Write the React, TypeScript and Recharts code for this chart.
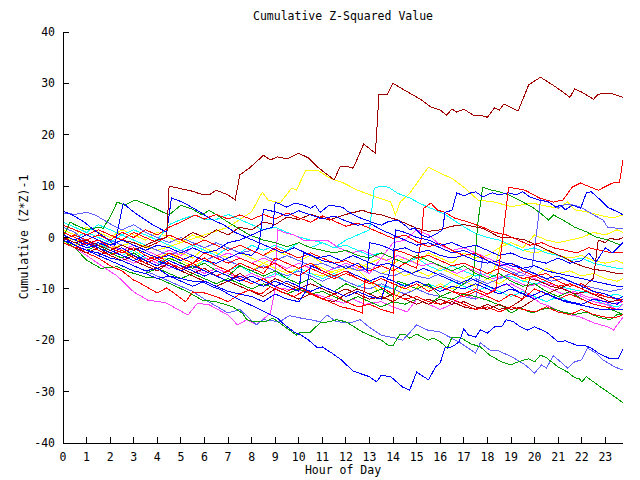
import React from 'react';
import { LineChart, Line, XAxis, YAxis } from 'recharts';

type P = [number, number][];

const HOUR_TICKS = [0, 1, 2, 3, 4, 5, 6, 7, 8, 9, 10, 11, 12, 13, 14, 15, 16, 17, 18, 19, 20, 21, 22, 23];
const VALUE_TICKS = [-40, -30, -20, -10, 0, 10, 20, 30, 40];

const dr1: P = [[0,0],[0.5,-1],[1,-0.5],[1.5,-1.5],[2,-2.5],[2.5,-1.5],[3,-2.5],[3.5,-1.5],[4,-0.5],[4.4,0],[4.5,10],[5,9.5],[5.5,9],[5.8,8.5],[6.2,8.3],[6.5,9.2],[7,8.3],[7.3,7.3],[7.5,12.2],[7.9,13.5],[8.5,16],[8.8,15.1],[9.1,15.7],[9.5,15.3],[10,16.4],[10.4,15.5],[10.8,13.7],[11.5,11.2],[11.76,13.9],[12,13.9],[12.3,13.5],[12.5,15.5],[12.75,18.2],[13.25,16.4],[13.4,27.9],[13.75,27.9],[14,30],[14.7,28.1],[15.2,26.8],[15.6,25.4],[16,24.8],[16.26,23.8],[16.5,25],[16.7,24.4],[17,25],[17.4,23.8],[17.7,23.8],[18,23.4],[18.3,25.2],[18.5,24.8],[18.7,26],[19.3,24.6],[19.75,29.7],[20.25,31.2],[20.9,29.3],[21.5,27.3],[21.7,28.9],[22,28.3],[22.5,26.9],[22.7,27.9],[23.2,28.1],[23.75,27.3]];
const r1: P = [[0,1],[0.5,0],[1,-1.2],[1.5,-0.5],[2,-2],[2.5,-3],[3,-2],[3.5,-3.5],[4,-4.5],[4.5,-3],[5,-4],[5.5,-5],[6,-4],[6.5,-5.5],[7,-6.5],[7.5,-5],[8,-6],[8.5,-7],[9,-4],[9.5,-5],[10,-6],[10.5,-5],[11,-6.5],[11.5,-7.5],[12,-6.5],[12.5,-8],[13,-9],[13.5,-8],[14,-9],[14.5,-10],[15,-9],[15.5,-10.5],[16,-9.5],[16.5,-10.5],[17,-11],[17.5,-10],[18,-11],[18.35,-10.2],[18.6,-2],[18.9,9.8],[19.6,9.2],[20.2,7.7],[20.8,6.9],[21.2,7.3],[21.6,9.8],[21.95,10.6],[22.7,9.2],[23.3,10.6],[23.6,10.8],[23.75,15]];
const b1: P = [[0,0.5],[0.5,-0.5],[1,0.5],[1.5,-0.5],[2,-1.5],[2.5,-0.5],[3,-1.5],[3.5,-2.5],[4,-1.5],[4.5,-2],[5,-3],[5.5,-2],[6,-3],[6.5,-2.5],[7,-1],[7.5,-0.5],[8,0.5],[8.5,1.5],[8.9,2],[9,6.9],[9.5,5.9],[9.85,6.7],[10.2,6.3],[10.5,5.7],[10.7,6.3],[10.9,4.9],[11.3,6.3],[11.85,5.9],[12.1,5],[12.5,4],[13.2,2.8],[13.5,2.4],[13.8,3.1],[14.2,3.4],[14.5,2.4],[14.7,1.5],[14.9,1.9],[15.2,0.5],[15.5,0],[15.8,0.6],[16.1,1.5],[16.2,4.9],[16.5,5.3],[16.7,8.7],[17,8.1],[17.3,8.7],[17.5,8.9],[17.8,7.9],[18.2,8.7],[18.5,8.3],[18.9,8.7],[19.2,8.3],[19.5,8.9],[19.8,7.9],[20.2,7.3],[20.6,6.9],[20.9,5.9],[21.1,6.3],[21.3,5.4],[21.6,6.3],[21.95,5.7],[22.2,8.7],[22.4,8.9],[22.7,7.7],[23.1,5.9],[23.6,4.8],[23.75,4.4]];
const y1: P = [[0,0],[1,-1],[2,-2],[3,-1],[4,-2.5],[5,-1],[6,0.5],[7,2],[7.5,3.5],[8,5],[8.45,8.8],[8.7,7.3],[9.2,6.7],[9.7,9.6],[9.9,9.2],[10.3,13.1],[10.8,13.1],[11.3,11.6],[11.9,10.6],[12.5,9.2],[13.2,8],[13.9,6.9],[14.1,4.4],[14.3,6.9],[14.7,8.6],[15.2,11.8],[15.5,13.7],[16,12.5],[16.5,11.5],[17,9.8],[17.6,7.3],[18.3,6.9],[19,6],[19.9,6.7],[20.4,6.2],[21,5.7],[21.4,6.9],[21.7,5.4],[22.2,5],[22.7,4.4],[23.3,3.8],[23.75,4.4]];
const g1: P = [[0,-0.5],[0.5,-1.5],[1,-2.5],[1.5,-1.5],[2,-3],[2.5,-4],[3,-3],[3.5,-4.5],[4,-5.5],[4.5,-4],[5,-5],[5.5,-6],[6,-5],[6.5,-6.5],[7,-7.5],[7.5,-5.5],[8,-6.5],[8.5,-7.5],[9,-6.5],[9.5,-8],[10,-9],[10.5,-8],[11,-9.5],[11.5,-10.5],[12,-9],[12.5,-10],[13,-11],[13.5,-10],[14,-11.5],[14.2,-8.5],[14.5,-9],[15,-10],[15.5,-9],[16,-11.5],[16.5,-10.5],[17,-9],[17.4,-7.5],[17.6,3],[17.8,9.8],[18.1,9.3],[18.5,8.9],[18.9,8.3],[19.5,6.9],[19.9,5.9],[20.2,4.9],[20.6,3.4],[20.8,4.4],[21.2,3.4],[21.7,2],[22.2,1.1],[22.6,0.1],[23.1,-0.5],[23.5,-1.2],[23.65,-1.5],[23.75,-1]];
const g2: P = [[0,0],[0.3,3],[0.5,2.5],[1,1.5],[1.5,2],[1.7,1.8],[2,4],[2.3,6.9],[2.6,6.3],[3.06,7.3],[3.5,6.5],[3.9,5.7],[4.2,5],[4.5,4.4],[5,6.3],[5.5,5.5],[5.9,4.4],[6.2,5.3],[7,3],[7.9,0.5],[8.5,-0.5],[9,-1],[9.5,-1.8],[10,-1],[10.5,-2],[11,-2.5],[11.5,-3],[12,-2.5],[12.5,-3.5],[13,-4],[13.5,-3],[14,-4],[14.5,-5],[15,-3.5],[15.5,-4.5],[16,-5.5],[16.5,-6.5],[17,-5.5],[17.5,-7],[18,-8],[18.5,-7],[19,-8.5],[19.5,-9.5],[20,-9],[20.5,-10.5],[21,-11.5],[21.5,-10.5],[22,-12],[22.5,-13],[23,-13.5],[23.5,-14.5],[23.75,-15]];
const g3: P = [[0,-0.5],[0.5,-2],[1,-4.4],[1.6,-6],[2.3,-5.7],[2.8,-6.7],[3.5,-7.7],[4,-7.9],[4.5,-8.9],[5.3,-10.6],[5.9,-12.2],[6.5,-12.5],[7.2,-13.5],[7.6,-14.7],[7.8,-16],[8.1,-16.4],[8.6,-16.4],[8.9,-15.7],[9.3,-17],[9.6,-18],[9.9,-19],[10.1,-18.4],[10.5,-18.4],[10.9,-16.6],[11.3,-16.4],[11.6,-16],[12,-16.4],[12.7,-18.4],[13.5,-20],[13.8,-21],[14,-21],[14.3,-18.8],[14.5,-18.8],[14.7,-19.6],[15,-18.8],[15.5,-20],[15.7,-19.6],[16,-20.3],[16.3,-21.5],[16.5,-19.4],[16.9,-19.6],[17.3,-20.7],[17.7,-21.3],[18.1,-22.9],[18.6,-24.2],[19,-24.8],[19.3,-24.2],[19.75,-23.6],[20,-24.2],[20.25,-22.9],[20.5,-23.4],[21,-25.2],[21.4,-26.2],[21.7,-27.3],[21.9,-27.5],[22,-28.1],[22.2,-27.1],[22.8,-29.1],[23.4,-31],[23.75,-32.2]];
const b2: P = [[0,0],[0.5,-1.5],[1,-2.5],[1.5,-3],[2,-4],[2.5,-4.5],[3,-5.5],[3.5,-6.5],[4,-6],[4.5,-7.5],[5,-8],[5.5,-8.5],[5.9,-8.6],[6.3,-9.5],[6.7,-10.2],[7.2,-11.5],[7.8,-12.8],[8.4,-14.1],[9.1,-15.7],[9.4,-17],[9.8,-18.4],[10.1,-19],[10.4,-19.9],[10.8,-21.5],[11,-21.3],[11.4,-22.5],[11.8,-23.8],[12.3,-26],[13,-27.1],[13.3,-28.1],[13.5,-26.8],[13.9,-27.1],[14.4,-29.1],[14.7,-29.7],[15,-26.2],[15.5,-27.7],[15.8,-25.2],[16,-24.4],[16.2,-21.5],[16.5,-21.3],[16.8,-20.3],[17,-17.8],[17.2,-19],[17.5,-19.4],[17.7,-18],[18,-18.6],[18.3,-17.4],[18.6,-17.4],[18.8,-16],[19.1,-16.4],[19.4,-17.4],[19.7,-18],[20,-17.4],[20.5,-18.4],[21,-20.3],[21.3,-20.1],[21.8,-21],[22.1,-21],[22.4,-21.5],[22.7,-22.5],[23.2,-23.6],[23.55,-23.6],[23.75,-21.7]];
const s1: P = [[0,2],[0.5,1],[1,-1],[1.5,-2],[2,-3.5],[2.5,-4.5],[3,-5.5],[3.5,-6.5],[4,-7.5],[4.5,-8.5],[5,-9.5],[5.5,-10.5],[6,-12],[6.4,-13.1],[7,-14.7],[7.5,-14],[8.2,-17],[8.5,-16],[9.2,-16.4],[9.6,-15.2],[10.1,-15.7],[10.5,-16],[10.9,-16.4],[11.2,-15.1],[11.6,-16.4],[12.2,-16.6],[12.6,-16],[13,-17.5],[13.5,-19],[14.1,-19.6],[14.4,-20],[14.65,-18.8],[15,-17],[15.45,-18],[16,-18.4],[16.4,-19.4],[16.85,-20.5],[17.5,-22.5],[17.7,-20.5],[18.1,-21.9],[18.5,-22.1],[19.1,-23.4],[19.6,-24.8],[20,-26.4],[20.3,-24.8],[20.5,-25.4],[20.8,-23],[21.1,-24.2],[21.4,-25.4],[21.7,-24.2],[22,-23.8],[22.25,-21.5],[22.6,-22.5],[22.9,-23.8],[23.4,-25.2],[23.75,-25.8]];
const m1: P = [[0,-0.5],[0.5,-2],[1,-3.5],[1.7,-5.7],[2.3,-7.5],[3,-10.6],[3.6,-12.2],[4.1,-12.5],[4.4,-12.8],[5.3,-15.1],[5.7,-12.8],[6.2,-13.1],[7,-15.1],[7.4,-17],[7.8,-16],[8.2,-17],[8.8,-14.7],[9,-9.8],[9.8,-10.2],[10.4,-10.6],[11,-11.5],[11.9,-12.8],[12.3,-12],[12.8,-13],[13.5,-12.5],[14,-13.5],[14.6,-14.5],[15,-12],[15.5,-13],[16,-14],[16.5,-13],[17,-11],[17.5,-12],[18,-11],[18.5,-9.5],[19,-9],[19.5,-10.2],[20.25,-12.8],[20.7,-13.5],[21.2,-14.7],[21.95,-15.5],[22.5,-16.6],[23.1,-17.4],[23.35,-18],[23.75,-15.5]];
const c1: P = [[0,1],[0.5,0],[1,1],[1.5,0],[2,-1],[2.5,0.5],[3,-0.5],[3.5,-1.5],[4,-0.5],[4.5,-1.5],[5,-2.5],[5.5,-1.5],[6,-2.5],[6.5,-3.5],[7,-2],[7.5,-3],[8,-1.5],[8.5,-2.5],[9,-1.5],[9.5,-2.5],[10,-1],[10.5,-2],[11,-1],[11.5,-2],[12,-0.5],[12.5,0.5],[13,1.5],[13.2,9.6],[13.5,10],[13.8,9.8],[14.2,8.6],[14.7,7.7],[15.2,6.5],[15.7,5.5],[16.2,4.5],[16.7,3],[17.1,1.8],[17.5,0.8],[18,0],[18.5,-0.5],[19,-1.5],[19.5,-2.5],[20,-2],[20.5,-3],[21,-3.5],[21.5,-4.5],[22,-4],[22.5,-5],[23,-5.5],[23.5,-6],[23.75,-6]];
const c2: P = [[0,3],[0.5,2],[1,1],[1.5,2.5],[2,1.5],[2.5,0.5],[3,1.5],[3.5,0.5],[4,-0.5],[4.5,2.5],[5,3.5],[5.6,4.4],[6,3.5],[6.45,3.4],[7,4.5],[7.5,3.5],[8,2.5],[8.5,1.5],[9,2],[9.5,1],[10,0.1],[10.5,-0.5],[11,-1],[11.5,-2],[12,-1.5],[12.5,-2.5],[13,-3.5],[13.5,-3],[14,-4],[14.5,-5],[15,-4],[15.5,-5.5],[16,-6.5],[16.5,-5.5],[17,-6.5],[17.5,-7.5],[18,-7],[18.5,-8],[19,-7.5],[19.5,-8.5],[20,-9],[20.5,-8.5],[21,-9.5],[21.5,-10],[22,-10.5],[22.5,-11],[23,-11.5],[23.5,-11],[23.75,-11.6]];
const c3: P = [[0,0],[0.5,-1],[1,-2],[1.5,-1],[2,-2.5],[2.5,-3.5],[3,-2.5],[3.5,-4],[4,-5],[4.5,-4],[5,-5],[5.5,-6],[6,-4.5],[6.5,-5.5],[7,-6.5],[7.5,-5.5],[8,-7],[8.5,-8],[9,-7],[9.5,-8],[10,-6],[10.5,-7],[11,-8],[11.5,-7],[12,-8.5],[12.5,-9.5],[13,-8.5],[13.5,-9.5],[14,-10],[14.5,-9],[15,-10],[15.5,-9],[16,-10],[16.5,-8.5],[17,-9.5],[17.5,-10.5],[18,-9.5],[18.5,-10.5],[19,-11.5],[19.5,-10.5],[20,-11.5],[20.5,-12.5],[21,-11.5],[21.5,-12.5],[22,-13],[22.5,-12],[23,-13],[23.5,-13.5],[23.75,-13]];
const y2: P = [[0,1.5],[0.5,0.5],[1,2],[1.5,1],[2,0],[2.5,1.5],[3,0.5],[3.5,-0.5],[4,1],[4.5,0],[5,-1],[5.5,0.5],[6,-0.5],[6.5,-1.5],[7,-2.5],[7.5,-1.5],[8,-2.5],[8.5,-3.5],[9,-2.5],[9.5,-3.5],[10,-4.5],[10.5,-3.5],[11,-5],[11.5,-6],[12,-5],[12.5,-6],[13,-5],[13.5,-4],[14,-5],[14.5,-4],[15,-5],[15.5,-3],[16,-4],[16.5,-5],[17,-3],[17.5,-4],[18,-3.5],[18.5,-2],[19,-1],[19.5,-2],[20,0.5],[20.5,-0.5],[21,-1],[21.5,-0.5],[22,0],[22.5,1],[23,0.5],[23.5,1.5],[23.75,1]];
const y3: P = [[0,0.5],[0.5,-0.5],[1,-1.5],[1.5,-1],[2,-2],[2.5,-3],[3,-2],[3.5,-3],[4,-4],[4.5,-3],[5,-4.5],[5.5,-5.5],[6,-4.5],[6.5,-5.5],[7,-6.5],[7.5,-5.5],[8,-6.5],[8.5,-5],[9,-6],[9.5,-7],[10,-6],[10.5,-7],[11,-7.5],[11.5,-6.5],[12,-6],[12.5,-6.3],[13,-8.5],[13.6,-11.6],[14,-12.5],[14.4,-9.6],[14.8,-10.5],[15.2,-9],[15.6,-10],[16,-9],[16.5,-10],[17,-8.5],[17.5,-9.5],[18,-8],[18.5,-9],[19,-7.5],[19.5,-8.5],[20,-7.5],[20.5,-6],[21,-7],[21.5,-6.5],[22,-7.5],[22.5,-7],[23,-8],[23.5,-8.5],[23.75,-8]];
const d2: P = [[0,0.5],[0.5,-0.5],[1,0.5],[1.5,-0.5],[2,-1.5],[2.5,-0.5],[3,-1],[3.5,-2],[4,-1],[4.5,0.5],[5,-0.5],[5.5,1],[6,0],[6.5,1.5],[7,0.5],[7.5,2],[8,1.5],[8.5,3],[9,2.5],[9.5,4],[10,3.5],[10.5,4.5],[11,3.8],[11.3,3.4],[12,4.5],[12.7,5.3],[13,4.8],[13.5,4.4],[14.2,3.4],[15,1.8],[15.5,1.2],[16,1.5],[16.5,2.2],[17,2.5],[17.8,1.8],[18.5,0.1],[19,0],[19.6,-0.5],[20.25,-1.8],[20.8,-3],[21.2,-3.8],[21.7,-5],[22.1,-5.7],[22.5,-6.2],[23,-6.5],[23.5,-7],[23.75,-7]];
const d3: P = [[0,-1],[0.5,-2],[1,-3],[1.5,-2],[2,-3.5],[2.5,-4.5],[3,-3.5],[3.5,-5],[4,-6],[4.5,-5],[5,-6],[5.5,-7],[6,-6],[6.5,-7.5],[7,-8.5],[7.5,-7],[8,-8.5],[8.5,-9.5],[9,-8],[9.5,-9],[10,-10],[10.5,-9],[11,-10],[11.5,-11],[12,-10],[12.5,-11],[13,-12],[13.5,-11.5],[14,-12.5],[14.5,-11],[15,-12],[15.5,-13],[16,-12],[16.5,-13],[17,-12.5],[17.5,-13.5],[18,-14],[18.5,-13],[19,-14],[19.5,-13.5],[20,-12],[20.5,-11],[21,-10],[21.5,-9],[22,-10],[22.5,-7.9],[22.7,-0.5],[23,-1],[23.2,-0.1],[23.5,-0.5],[23.75,0]];
const r3: P = [[0,-0.5],[0.5,-1.5],[1,-3],[1.5,-4],[2,-5.5],[2.5,-6.5],[3,-8.3],[3.2,-8.7],[4,-10.8],[4.4,-9.8],[5.2,-12.5],[5.5,-10.6],[6,-10.8],[6.5,-11.5],[7,-12.5],[7.5,-11],[7.9,-10.2],[8.4,-11],[8.8,-9.6],[9.2,-10.5],[9.8,-11.5],[10.3,-10.2],[10.8,-11.5],[11.3,-12.5],[11.8,-13.5],[12.3,-14],[12.7,-14.7],[12.8,-8.3],[13.2,-9],[13.6,-10],[14,-11],[14.5,-12],[15,-11.5],[15.5,-12.5],[16,-13],[16.5,-12],[17,-13],[17.5,-14],[18,-13.5],[18.5,-14.5],[19,-13.5],[19.5,-14],[20,-14.5],[20.5,-13.5],[21,-14.5],[21.5,-15],[22,-14],[22.5,-15],[23,-15.5],[23.5,-15.5],[23.75,-15]];
const r4: P = [[0,0],[0.5,-1],[1,-0.5],[1.5,-2],[2,-3],[2.5,-2],[3,-3.5],[3.5,-4.5],[4,-3.5],[4.5,-5],[5,-6],[5.5,-5],[6,-6.5],[6.5,-7.5],[7,-6.5],[7.5,-8],[8,-9],[8.5,-8],[9,-9.5],[9.5,-10.5],[10,-9.5],[10.5,-11],[11,-12],[11.5,-11],[12,-12.5],[12.5,-13.5],[13,-13],[13.5,-14],[14,-14.7],[14.05,-2.4],[14.5,-3],[15,-4],[15.5,-3.5],[16,-4.5],[16.5,-5.5],[17,-5],[17.5,-6],[18,-7],[18.5,-6],[19,-7],[19.5,-8],[20,-7.5],[20.5,-8.5],[21,-9.5],[21.5,-9],[22,-10],[22.5,-11],[23,-11.5],[23.5,-12],[23.75,-12]];
const r5: P = [[0,2.4],[0.5,1.5],[1,0.5],[1.5,1.5],[2,0.5],[2.5,-0.5],[3,1],[3.5,0],[4,-1],[4.5,0.5],[5,-0.5],[5.5,-1.5],[6,-0.5],[6.5,-1.5],[7,-2.5],[7.5,-1.5],[8,-2.5],[8.5,-3.5],[9,-2],[9.5,-3],[10,-4],[10.5,-3],[11,-4],[11.5,-5],[12,-4.5],[12.5,-5.5],[13,-6.5],[13.5,-5.5],[14,-6.5],[14.5,-5],[15,-6],[15.2,0],[15.3,5.7],[15.6,6.7],[15.9,5.3],[16.2,4.9],[16.6,3.8],[17.2,3],[17.8,2],[18.3,1],[18.8,0.5],[19.3,-0.5],[19.8,-1.5],[20.3,-1],[20.8,-2],[21.3,-2.5],[21.8,-3],[22.3,-2],[22.8,-2.5],[23.3,-3],[23.75,-3]];
const r6: P = [[0,-1],[0.5,-2],[1,-1],[1.5,-2.5],[2,-3.5],[2.5,-2.5],[3,-4],[3.5,-5],[4,-4],[4.5,-5.5],[5,-6.5],[5.5,-5],[6,-3],[6.5,-4],[7,-5],[7.5,-4],[8,-5],[8.5,-6],[9,-5],[9.5,-6.5],[10,-7.5],[10.5,-6],[11,-7],[11.5,-8],[12,-7],[12.5,-8],[13,-9],[13.5,-8],[14,-9],[14.5,-10],[15,-9],[15.5,-10.5],[16,-9.5],[16.5,-10.5],[17,-11.5],[17.5,-10.5],[18,-11.5],[18.5,-12.5],[19,-11],[19.5,-12],[20,-10],[20.5,-11],[21,-12],[21.5,-11],[22,-12],[22.5,-13],[23,-13.5],[23.5,-14],[23.75,-14]];
const r7: P = [[0,-0.5],[0.5,0.5],[1,-0.5],[1.5,0.5],[2,-0.5],[2.5,1],[3,0],[3.5,1.5],[4,0.5],[4.5,2],[5,3],[5.6,4.4],[6,3.6],[6.5,4.5],[7,3.6],[7.5,4.4],[8,3.5],[8.5,4.5],[9,3.6],[9.5,4.8],[10,3.8],[10.5,3],[11,4.2],[11.5,3.2],[12,2.2],[12.5,2.8],[13,1.8],[13.5,0.8],[14,-0.2],[14.5,0.5],[15,-0.8],[15.5,-1.8],[16,-1.2],[16.5,-2.5],[17,-3.5],[17.5,-3],[18,-4.5],[18.5,-5.5],[19,-5],[19.5,-6.5],[20,-7.5],[20.5,-7],[21,-8.5],[21.5,-9.5],[22,-9],[22.5,-10.5],[23,-11.5],[23.5,-12],[23.75,-12.5]];
const b3: P = [[0,-0.5],[0.5,-1.5],[1,-2.5],[1.5,-3.5],[2,-4.5],[2.5,-5.5],[3,-6.5],[3.5,-7],[4,-8],[4.5,-7.5],[5,-8.5],[5.5,-9.5],[6,-8.5],[6.5,-9.5],[7,-10.5],[7.5,-11],[8,-11.5],[8.5,-12.5],[9,-11],[9.5,-12],[10,-12.5],[10.3,-10.5],[10.5,-5.5],[11,-6.5],[11.5,-7.5],[12,-6.5],[12.5,-7.5],[13,-8.5],[13.5,-7.5],[14,-8.5],[14.5,-9.5],[15,-8.5],[15.5,-9.5],[16,-10.5],[16.5,-9.5],[17,-10],[17.5,-9],[18,-10],[18.5,-11],[19,-10],[19.5,-11],[20,-12],[20.5,-11],[21,-12],[21.5,-12.5],[22,-13],[22.5,-12],[23,-12.5],[23.5,-13],[23.75,-12]];
const b4: P = [[0,1],[0.5,0],[1,-1],[1.5,-2],[2,-3],[2.5,-2],[3,-3.5],[3.5,-4.5],[4,-5.5],[4.5,-4.5],[5,-5.5],[5.5,-6.5],[6,-7.5],[6.5,-6.5],[7,-7.5],[7.5,-8.5],[8,-7.5],[8.5,-8.5],[9,-9.5],[9.5,-8.5],[10,-9.5],[10.5,-10.5],[11,-9.5],[11.5,-10.5],[12,-11.5],[12.5,-10.5],[13,-11.5],[13.5,-12],[14,-4.4],[14.1,1.5],[14.5,1],[15,0],[15.5,-0.5],[16,-1.5],[16.5,-1],[17,-2],[17.5,-1.5],[18,-2.5],[18.5,-3.5],[19,-3],[19.5,-4],[20,-4.5],[20.5,-5],[21,-4],[21.5,-5],[22,-4.5],[22.3,-3],[22.6,-4.8],[23,-2],[23.3,-3],[23.75,-1]];
const b5: P = [[0,5.1],[0.4,4.4],[0.9,3],[1.3,1.5],[1.8,0],[2.2,-1.5],[2.55,6.7],[2.9,5.3],[3.3,4],[3.8,2.5],[4.4,1],[4.6,7.7],[5,7],[5.3,6.3],[5.8,5],[6.3,3.5],[6.8,2.5],[7.3,1],[7.8,0],[8.3,-1],[8.8,-2],[9.3,-3],[9.8,-2],[10.3,-3],[10.8,-4],[11.3,-3.5],[11.8,-4.5],[12.3,-3.5],[12.8,-4.5],[13.3,-5.5],[13.8,-5],[14.3,-6],[14.8,-7],[15.3,-6],[15.8,-7],[16.3,-8],[16.8,-9],[17.3,-8],[17.8,-9],[18.3,-10],[18.8,-9],[19.3,-10.5],[19.8,-11.5],[20.3,-10.5],[20.8,-11.5],[21.3,-12.5],[21.8,-13],[22.3,-13.5],[22.8,-14],[23.3,-14],[23.75,-14]];
const b6: P = [[0,0],[0.5,-1],[1,-2],[1.5,-1.5],[2,-2.5],[2.5,-3.5],[3,-4.5],[3.5,-3.5],[4,-4.5],[4.5,-5.5],[5,-6.5],[5.5,-5.5],[6,-6.5],[6.5,-7.5],[7,-8.5],[7.5,-7.5],[8,-8.5],[8.5,-9.5],[9,-8.5],[9.5,-9.5],[10,-10.5],[10.2,-3],[10.5,-3.5],[11,-4.5],[11.5,-5],[12,-6],[12.5,-5],[12.9,-6.5],[13,-1],[13.5,-1.5],[14,-2.5],[14.5,-2],[15,-3],[15.5,-2.5],[16,-3.5],[16.5,-4],[17,-3.5],[17.5,-4.5],[18,-5],[18.5,-4.5],[19,-5.5],[19.5,-6],[20,-5.5],[20.5,-6.5],[21,-7],[21.5,-7.5],[22,-8],[22.5,-8.5],[23,-9],[23.5,-9.5],[23.75,-9.5]];
const b7: P = [[0,0.5],[0.5,-0.5],[1,-1.5],[1.5,-1],[2,-2],[2.5,-3],[3,-2],[3.5,-3],[4,-4],[4.5,-3.5],[5,-4.5],[5.5,-3.5],[6,-4.5],[6.5,-5],[7,-4],[7.5,-3],[8,-3.5],[8.3,-2],[8.5,5.5],[9,5],[9.5,4.2],[10,5.2],[10.5,4.4],[11,3.6],[11.5,4.2],[12,3.2],[12.5,2.4],[13,2.8],[13.5,1.5],[14,0.5],[14.5,-0.5],[15,-1.5],[15.5,-1],[16,-2],[16.5,-3],[17,-2.5],[17.5,-3.5],[18,-4.5],[18.5,-5.5],[19,-5],[19.5,-6],[20,-7],[20.5,-8],[21,-7.5],[21.5,-8.5],[22,-9.5],[22.5,-10.5],[23,-11],[23.5,-12],[23.75,-11.5]];
const s2: P = [[0,4.8],[0.5,4.5],[1,4.9],[1.36,4.4],[2.1,2.4],[2.5,1.5],[3,2.5],[3.5,1],[4,0],[4.5,-1],[5,0],[5.5,-1],[6,-2],[6.5,-1],[7,-2],[7.5,-3],[8,-2.5],[8.5,-3.5],[9,-4.5],[9.5,-3.5],[10,-4.5],[10.5,-5.5],[11,-5],[11.5,-6],[12,-5.5],[12.5,-6.5],[13,-6],[13.5,-7],[14,-7.5],[14.5,-6.5],[15,-7.5],[15.5,-8],[16,-7],[16.5,-8],[17,-9],[17.5,-8],[18,-9],[18.5,-8],[19,-7],[19.5,-7.5],[19.9,-5.7],[20.1,1.5],[20.25,7.3],[20.6,6.9],[21,5.7],[21.3,6.5],[21.7,6.3],[22,5.8],[22.5,4.4],[22.9,3.4],[23.1,2],[23.5,1.8],[23.75,1.8]];
const s3: P = [[0,-0.5],[0.5,0.5],[1,-0.5],[1.5,-1.5],[2,-0.5],[2.5,-1.5],[3,-2.5],[3.5,-1.5],[4,-2.5],[4.5,-3.5],[5,-2.5],[5.5,-3.5],[6,-4.5],[6.5,-3.5],[7,-4.5],[7.5,-5.5],[8,-6.5],[8.5,-5.5],[9,-6.5],[9.5,-7.5],[10,-6.5],[10.5,-7.5],[11,-8.5],[11.5,-7.5],[12,-8.5],[12.5,-9.5],[13,-10],[13.5,-9],[14,-10],[14.5,-11],[15,-10],[15.5,-11],[16,-11.5],[16.5,-10.5],[17,-11.5],[17.5,-12],[17.8,-4],[18.2,-5],[18.7,-6],[19.2,-7],[19.7,-6.5],[20.2,-7.5],[20.7,-8.5],[21.2,-8],[21.7,-9],[22.2,-9.5],[22.7,-10],[23.2,-10.5],[23.75,-10]];
const m2: P = [[0,-1],[0.5,-2],[1,-3],[1.5,-2],[2,-3],[2.5,-4],[3,-5],[3.5,-4],[4,-5],[4.5,-6],[5,-5],[5.5,-6],[6,-7],[6.5,-6],[7,-7],[7.5,-8],[8,-7],[8.5,-8],[9,-7.5],[9.1,1.5],[9.5,0.8],[9.8,0.5],[10.2,-0.5],[10.6,-0.5],[11.2,-0.5],[11.7,-2],[12.2,-3],[12.7,-2.5],[13.2,-3.5],[13.7,-4.5],[14.2,-3.5],[14.7,-4.5],[15.2,-5.5],[15.7,-5],[16.2,-6],[16.7,-7],[17.2,-6],[17.7,-7],[18.2,-8],[18.7,-7.5],[19.2,-8.5],[19.7,-9.5],[20.2,-9],[20.7,-10],[21.2,-11],[21.7,-10.5],[22.2,-11.5],[22.7,-12],[23.2,-13],[23.75,-12.5]];
const m3: P = [[0,0.5],[0.5,-0.5],[1,-1.5],[1.5,-0.5],[2,-1.5],[2.5,-2.5],[3,-1.5],[3.5,-2.5],[4,-3.5],[4.5,-2.5],[5,-3.5],[5.5,-2],[6,-3],[6.5,-4],[7,-3],[7.5,-4],[8,-5],[8.5,-4],[9,-5],[9.5,-6],[10,-5],[10.5,-6],[11,-7],[11.5,-6],[12,-5],[12.5,-6],[13,-7],[13.5,-4],[14,-1],[14.5,-0.5],[15,1.5],[15.5,0.5],[16,-1.5],[16.5,-2.5],[17,-2],[17.5,-3],[18,-4],[18.5,-5],[19,-6],[19.5,-7],[20,-8],[20.5,-9],[21,-9.5],[21.5,-10.5],[22,-11.5],[22.5,-12.5],[23,-13],[23.5,-14],[23.75,-13]];
const g4: P = [[0,-0.5],[0.5,-1.5],[1,-2.5],[1.5,-3.5],[2,-4.5],[2.5,-5.5],[3,-6.5],[3.5,-7],[4,-6],[4.5,-7],[5,-8],[5.5,-7],[6,-8],[6.5,-9],[7,-8],[7.5,-9],[8,-10],[8.5,-9],[9,-10],[9.5,-11],[10,-10],[10.5,-11],[11,-10.5],[11.5,-11.5],[12,-12.5],[12.5,-11.5],[13,-12.5],[13.5,-13.5],[14,-12.5],[14.5,-13],[15,-12],[15.5,-13],[16,-11.5],[16.5,-12],[17,-11],[17.5,-11.5],[18,-12.2],[18.7,-13.5],[19,-14.7],[19.4,-13.7],[19.9,-14.7],[20.3,-14],[20.7,-13.7],[21.2,-14.5],[21.7,-15],[22.2,-14.5],[22.7,-15.5],[23.2,-16],[23.5,-15],[23.75,-15]];
const y4: P = [[0,-1],[0.5,-1.5],[1,-0.5],[1.5,-2],[2,-1],[2.5,-2.5],[3,-3.5],[3.5,-2.5],[4,-3.5],[4.5,-4.5],[5,-3],[5.5,-4],[6,-2],[6.5,-3],[7,-4],[7.5,-3],[8,-4],[8.5,-5],[9,-4],[9.5,-5],[10,-6],[10.5,-5],[11,-6],[11.5,-7],[12,-6],[12.5,-5],[13,-6],[13.5,-7],[14,-6],[14.5,-7.5],[15,-6.5],[15.5,-7.5],[16,-6],[16.5,-7],[17,-8],[17.5,-7],[18,-8],[18.3,-6],[18.6,-1],[19,-1.5],[19.5,-2.5],[20,-3],[20.5,-2.5],[21,-3.5],[21.5,-4],[22,-3.5],[22.5,-4.5],[23,-5],[23.5,-4.5],[23.75,-5]];
const d4: P = [[0,-0.5],[0.5,-1.5],[1,-2.5],[1.5,-3.5],[2,-2.5],[2.5,-3.5],[3,-4.5],[3.5,-5.5],[4,-6.5],[4.5,-5],[5,-6.5],[5.5,-7.5],[6,-8.5],[6.5,-9.5],[7,-8.5],[7.5,-9.5],[8,-10.5],[8.5,-11.5],[9,-10],[9.5,-11],[10,-12],[10.5,-11],[11,-12],[11.5,-12.5],[12,-11],[12.5,-10],[13,-11],[13.5,-12],[14,-11],[14.5,-12],[15,-13],[15.5,-12],[16,-13],[16.5,-12.5],[17,-13.5],[17.5,-14],[18,-13],[18.5,-14],[19,-13.5],[19.5,-12],[19.8,-8],[20.2,-8.5],[20.7,-9.5],[21.2,-10],[21.7,-11],[22.2,-10.5],[22.7,-11.5],[23.2,-12.5],[23.75,-12]];

const RED = '#ff0000';
const GREEN = '#00a000';
const BLUE = '#0000ff';
const MAGENTA = '#ff40ff';
const CYAN = '#00ffff';
const YELLOW = '#ffff00';
const DARKRED = '#a00000';
const SLATE = '#6060ff';

const SERIES: { id: string; color: string; pts: P }[] = [
  { id: 'y1', color: YELLOW, pts: y1 },
  { id: 'y2', color: YELLOW, pts: y2 },
  { id: 'y3', color: YELLOW, pts: y3 },
  { id: 'y4', color: YELLOW, pts: y4 },
  { id: 'c1', color: CYAN, pts: c1 },
  { id: 'c2', color: CYAN, pts: c2 },
  { id: 'c3', color: CYAN, pts: c3 },
  { id: 'm1', color: MAGENTA, pts: m1 },
  { id: 'm2', color: MAGENTA, pts: m2 },
  { id: 'm3', color: MAGENTA, pts: m3 },
  { id: 's1', color: SLATE, pts: s1 },
  { id: 's2', color: SLATE, pts: s2 },
  { id: 's3', color: SLATE, pts: s3 },
  { id: 'g1', color: GREEN, pts: g1 },
  { id: 'g2', color: GREEN, pts: g2 },
  { id: 'g3', color: GREEN, pts: g3 },
  { id: 'g4', color: GREEN, pts: g4 },
  { id: 'd2', color: DARKRED, pts: d2 },
  { id: 'd3', color: DARKRED, pts: d3 },
  { id: 'd4', color: DARKRED, pts: d4 },
  { id: 'r3', color: RED, pts: r3 },
  { id: 'r4', color: RED, pts: r4 },
  { id: 'r5', color: RED, pts: r5 },
  { id: 'r6', color: RED, pts: r6 },
  { id: 'r7', color: RED, pts: r7 },
  { id: 'b3', color: BLUE, pts: b3 },
  { id: 'b4', color: BLUE, pts: b4 },
  { id: 'b5', color: BLUE, pts: b5 },
  { id: 'b6', color: BLUE, pts: b6 },
  { id: 'b7', color: BLUE, pts: b7 },
  { id: 'b2', color: BLUE, pts: b2 },
  { id: 'b1', color: BLUE, pts: b1 },
  { id: 'r1', color: RED, pts: r1 },
  { id: 'dr1', color: DARKRED, pts: dr1 },
];

const FONT = '"DejaVu Sans Mono", monospace';
const FS = 11.5;

const BottomTick = (p: any) => (
  <g>
    <line x1={p.x} y1={p.y} x2={p.x} y2={p.y - 6} stroke="#000" />
    <text x={p.x} y={p.y + 18} textAnchor="middle" fontFamily={FONT} fontSize={FS} fill="#000">{p.payload.value}</text>
  </g>
);
const TopTick = (p: any) => <line x1={p.x} y1={p.y} x2={p.x} y2={p.y + 6} stroke="#000" />;
const LeftTick = (p: any) => (
  <g>
    <line x1={p.x} y1={p.y} x2={p.x + 6} y2={p.y} stroke="#000" />
    <text x={p.x - 8} y={p.y + 4} textAnchor="end" fontFamily={FONT} fontSize={FS} fill="#000">{p.payload.value}</text>
  </g>
);
const RightTick = (p: any) => <line x1={p.x} y1={p.y} x2={p.x - 6} y2={p.y} stroke="#000" />;

export default function App() {
  const textStyle: React.CSSProperties = { position: 'absolute', fontFamily: FONT, fontSize: FS, lineHeight: '12px', color: '#000', textAlign: 'center', whiteSpace: 'nowrap' };
  return (
    <div style={{ position: 'absolute', left: 0, top: 0, width: 640, height: 480, background: '#fff' }} className="chartwrap">
      <style>{`.chartwrap svg path, .chartwrap svg line { shape-rendering: crispEdges; }`}</style>
      <LineChart width={640} height={480} margin={{ top: 32, right: 17, bottom: 0, left: 0 }}>
        <XAxis dataKey="h" type="number" domain={[0, 23.75]} ticks={HOUR_TICKS} interval={0} height={37} tickSize={0} tickMargin={0} tickLine={false} axisLine={{ stroke: '#000' }} tick={BottomTick} allowDataOverflow />
        <XAxis xAxisId="top" orientation="top" dataKey="h" type="number" domain={[0, 23.75]} ticks={HOUR_TICKS} interval={0} height={0} tickSize={0} tickMargin={0} tickLine={false} axisLine={{ stroke: '#000' }} tick={TopTick} allowDataOverflow />
        <YAxis type="number" domain={[-40, 40]} ticks={VALUE_TICKS} interval={0} width={63} tickSize={0} tickMargin={0} tickLine={false} axisLine={{ stroke: '#000' }} tick={LeftTick} allowDataOverflow />
        <YAxis yAxisId="right" orientation="right" type="number" domain={[-40, 40]} ticks={VALUE_TICKS} interval={0} width={0} tickSize={0} tickMargin={0} tickLine={false} axisLine={{ stroke: '#000' }} tick={RightTick} allowDataOverflow />
        {SERIES.map((s) => (
          <Line key={s.id} data={s.pts.map(([h, v]) => ({ h, v }))} dataKey="v" type="linear" stroke={s.color} strokeWidth={1} dot={false} activeDot={false} isAnimationActive={false} />
        ))}
      </LineChart>
      <div style={{ ...textStyle, left: 243, top: 10, width: 200 }}>Cumulative Z-Squared Value</div>
      <div style={{ ...textStyle, left: 243, top: 464, width: 200 }}>Hour of Day</div>
      <div style={{ ...textStyle, left: 24 - 100, top: 237 - 6, width: 200, transform: 'rotate(-90deg)' }}>Cumulative (Z*Z)-1</div>
    </div>
  );
}
